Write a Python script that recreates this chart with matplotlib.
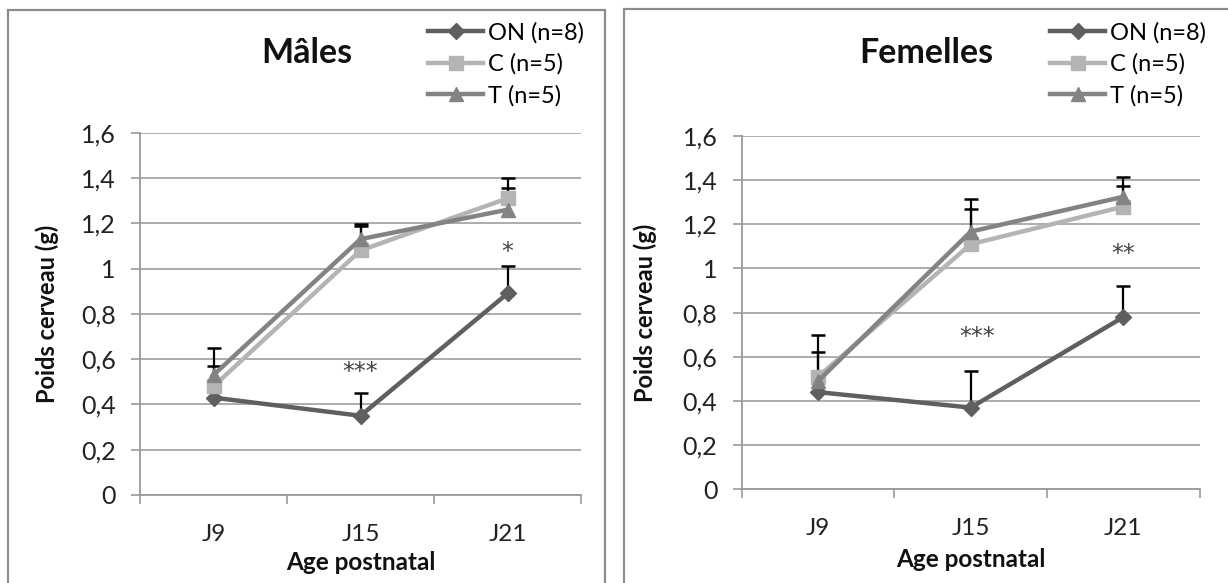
import matplotlib
matplotlib.use("Agg")
import matplotlib.pyplot as plt
from matplotlib.patches import Rectangle
import numpy as np

plt.rcParams['font.family'] = ['Lato', 'DejaVu Sans']

categories = ['J9', 'J15', 'J21']
series_labels = ['ON (n=8)', 'C (n=5)', 'T (n=5)']

males_on = [0.43, 0.35, 0.89]
males_on_err = [0.0, 0.10, 0.12]
males_c = [0.48, 1.08, 1.31]
males_c_err = [0.09, 0.11, 0.09]
males_t = [0.53, 1.13, 1.26]
males_t_err = [0.12, 0.065, 0.095]

females_on = [0.44, 0.37, 0.78]
females_on_err = [0.0, 0.165, 0.14]
females_c = [0.51, 1.11, 1.28]
females_c_err = [0.19, 0.16, 0.094]
females_t = [0.49, 1.167, 1.325]
females_t_err = [0.133, 0.146, 0.09]

males_stars = [('***', 1, 0.545), ('*', 2, 1.075)]
females_stars = [('***', 1.04, 0.688), ('**', 2, 1.066)]

yticks = [0, 0.2, 0.4, 0.6, 0.8, 1.0, 1.2, 1.4, 1.6]
ytick_labels = ['0', '0,2', '0,4', '0,6', '0,8', '1', '1,2', '1,4', '1,6']

colors = ['#5f5f5f', '#b4b4b4', '#838383']
markers = ['D', 's', '^']
msizes = [8, 10.5, 10.5]

W, H = 1228, 583
fig = plt.figure(figsize=(W / 100, H / 100), dpi=100)
fig.patch.set_facecolor('white')

# panel frames
fig.patches.append(Rectangle((8 / W, -0.1), (605 - 8) / W, 1.1 - 10 / H,
                             transform=fig.transFigure, fill=False,
                             edgecolor='#8c8c8c', lw=1.6))
fig.patches.append(Rectangle((624 / W, -0.1), 0.6, 1.1 - 9 / H,
                             transform=fig.transFigure, fill=False,
                             edgecolor='#8c8c8c', lw=1.6))


def px_axes(l, r, t, b):
    return [l / W, 1 - b / H, (r - l) / W, (b - t) / H]


def draw(ax, data, errs, stars, title, title_x, legend_x, ylab_x, xlab_y):
    x = np.arange(len(categories))
    for vals, err, c, m, ms, lab in zip(data, errs, colors, markers, msizes, series_labels):
        v = np.array(vals)
        e = np.array(err)
        keep = e > 0
        ax.vlines(x[keep], v[keep], (v + e)[keep], color='black', lw=1.6,
                  zorder=2.5)
        ax.plot(x[keep], (v + e)[keep], ls='none', marker='_', ms=10,
                mew=1.8, color='black', zorder=2.5)
        ax.plot(x, v, color=c, lw=3.2, marker=m, ms=ms, mfc=c, mec=c,
                label=lab, zorder=3, solid_joinstyle='round')
    for s, xs, ys in stars:
        ax.text(xs, ys, s, ha='center', va='center', fontsize=17,
                color='#444444', family='DejaVu Sans')
    ax.set_xlim(-0.5, 2.5)
    ax.set_ylim(0, 1.6)
    ax.set_yticks(yticks)
    ax.set_yticklabels(ytick_labels, fontsize=18)
    ax.set_xticks(x)
    ax.set_xticklabels(categories, fontsize=17.5)
    ax.set_xticks([-0.5, 0.5, 1.5, 2.5], minor=True)
    ax.tick_params(axis='x', which='major', length=0, pad=21,
                   colors='#222222')
    ax.tick_params(axis='x', which='minor', length=6.5, width=1.2,
                   color='#9a9a9a', direction='out')
    ax.tick_params(axis='y', length=6.5, width=1.2, color='#9a9a9a',
                   pad=11, labelcolor='#222222')
    ax.grid(axis='y', color='#a6a6a6', lw=1.3, zorder=0)
    ax.set_axisbelow(True)
    for sp in ['top', 'right']:
        ax.spines[sp].set_visible(False)
    for sp in ['left', 'bottom']:
        ax.spines[sp].set_color('#9a9a9a')
        ax.spines[sp].set_linewidth(1.3)
    ax.set_xlabel('Age postnatal', fontsize=17.5, fontweight='bold',
                  color='#111111')
    ax.xaxis.set_label_coords(0.5, xlab_y)
    ax.set_ylabel('Poids cerveau (g)', fontsize=17, fontweight='bold',
                  color='#111111')
    ax.yaxis.set_label_coords(ylab_x, 0.5)
    fig.text(title_x / W, 1 - 53 / H, title, fontsize=24.5, fontweight='bold',
             ha='center', va='center', color='#111111')
    ax.legend(loc='upper left', bbox_to_anchor=(legend_x / W, 1 - 22 / H),
              bbox_transform=fig.transFigure, frameon=False, fontsize=17,
              handlelength=2.35, handletextpad=0.2, labelspacing=0.42,
              borderpad=0, borderaxespad=0, markerscale=1.0)


ax1 = fig.add_axes(px_axes(140, 581, 132.7, 495))
draw(ax1, [males_on, males_c, males_t], [males_on_err, males_c_err, males_t_err],
     males_stars, 'Mâles', 307, 428, -81 / 441, -(551 - 495) / 362.3)

ax2 = fig.add_axes(px_axes(741.7, 1199.7, 136, 489.3))
draw(ax2, [females_on, females_c, females_t],
     [females_on_err, females_c_err, females_t_err],
     females_stars, 'Femelles', 926, 1050, -85 / 458, -(548 - 489.3) / 353.3)

fig.savefig('out.png', dpi=100)
